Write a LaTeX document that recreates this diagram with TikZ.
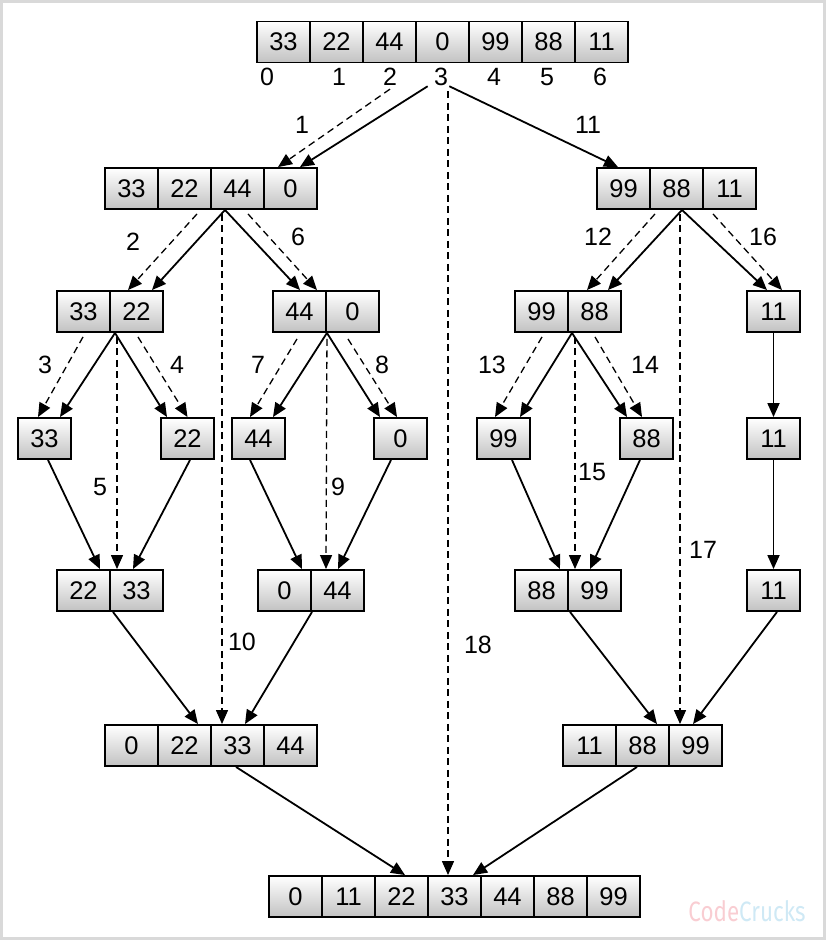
\documentclass[tikz,border=0pt]{standalone}
\usepackage{fontspec}
\setmainfont{Liberation Sans}
\newfontfamily\markfont{Fira Sans}
\usetikzlibrary{arrows.meta,positioning}
\definecolor{markpink}{HTML}{F9CDD2}
\definecolor{markblue}{HTML}{CFE9F5}
\tikzstyle{every node}=[thick]
\tikzstyle{cell}=[draw,line width=1.9pt,minimum width=53pt,minimum height=41pt,inner sep=0pt,
  top color=white,bottom color=black!24,font=\fontsize{25.5}{28}\selectfont]
\tikzstyle{idx}=[inner sep=0pt,font=\fontsize{25}{28}\selectfont]
\tikzstyle{stepno}=[inner sep=0pt,font=\fontsize{25}{28}\selectfont]
\tikzstyle{link}=[line width=1.8pt,-{Triangle[length=14pt,width=12pt]}]
\tikzstyle{copy}=[line width=1.3pt,dash pattern=on 7pt off 4.5pt,-{Triangle[length=14pt,width=12pt]}]
% row of cells: name, left x, centre y, values
\newcommand{\cellrow}[4]{%
  \foreach \v [count=\k] in {#4}
    \node[cell] (#1-\k) at ({#2+26.5+53*(\k-1)},#3) {\v};}

\begin{document}
\begin{tikzpicture}[x=1pt,y=-1pt]
\useasboundingbox (0,0) rectangle (826,946);
\draw[line width=3pt,black!15] (1.5,1.5) rectangle (824.5,938.5);

% arrays
\cellrow{t}{257}{42}{33,22,44,0,99,88,11}
\foreach \x [count=\k from 0] in {267,339,390,441,494,547,600}
  \node[idx] (i\k) at (\x,77) {\k};
\cellrow{a}{105}{188.5}{33,22,44,0}
\cellrow{b}{597}{188.5}{99,88,11}
\cellrow{c}{57}{311.5}{33,22}
\cellrow{d}{273}{311.5}{44,0}
\cellrow{e}{515}{311.5}{99,88}
\cellrow{f}{747}{311.5}{11}
\node[cell] (s33) at (44.5,438.5) {33};
\node[cell] (s22) at (187.5,438.5) {22};
\node[cell] (s44) at (258.5,438.5) {44};
\node[cell] (s0)  at (400.5,438.5) {0};
\node[cell] (s99) at (503.5,438.5) {99};
\node[cell] (s88) at (646.5,438.5) {88};
\node[cell] (s11) at (773.5,438.5) {11};
\cellrow{p}{57}{590.5}{22,33}
\cellrow{q}{258}{590.5}{0,44}
\cellrow{r}{515}{590.5}{88,99}
\cellrow{u}{747}{590.5}{11}
\cellrow{v}{105}{745.5}{0,22,33,44}
\cellrow{w}{563}{745.5}{11,88,99}
\cellrow{z}{269}{896.5}{0,11,22,33,44,88,99}

% split of the whole array
\draw[link] ([xshift=-6]i3.south west) -- ([xshift=9.5]a-4.north);
\draw[copy] ([yshift=-3]i2.south) -- ([xshift=-12.5]a-4.north);
\draw[link] ([xshift=1]i3.south east) -- ([xshift=-5.5]b-1.north);
\draw[copy] ([xshift=7,yshift=-5]i3.south) -- ([xshift=-6.5]z-4.north);

% left half
\draw[link] ([xshift=-12.5]a-3.south) -- ([xshift=15.5]c-2.north);
\draw[copy] ([xshift=12.5,yshift=-4]a-2.south) -- ([xshift=-8.5]c-2.north);
\draw[link] ([xshift=-12.5]a-3.south) -- ([xshift=0.5]d-1.north);
\draw[copy] ([xshift=10.5,yshift=-4]a-3.south) -- ([xshift=17.5]d-1.north);
\draw[copy] ([xshift=-15.5,yshift=-4]a-3.south) -- ([xshift=-15.5]v-3.north);

\draw[link] ([xshift=-21.5]c-2.south) -- ([xshift=15.5]s33.north);
\draw[copy] ([xshift=-0.5,yshift=-4]c-1.south) -- ([xshift=-6.5]s33.north);
\draw[link] ([xshift=-21.5]c-2.south) -- ([xshift=-20.5]s22.north);
\draw[copy] ([xshift=1.5,yshift=-4]c-2.south) -- (s22.north);
\draw[copy] ([xshift=-19.5,yshift=-4]c-2.south) -- ([xshift=-19.5]p-2.north);

\draw[link] (d-1.south east) -- ([xshift=14.5]s44.north);
\draw[copy] ([xshift=-2.5,yshift=-6]d-1.south) -- ([xshift=-8.5]s44.north);
\draw[link] (d-1.south east) -- ([xshift=-20.5]s0.north);
\draw[copy] ([xshift=-4.5,yshift=-6]d-2.south) -- ([xshift=-3.5]s0.north);
\draw[copy] ([yshift=-6]d-1.south east) -- ([xshift=-11.5]q-2.north);

\draw[link] ([xshift=3.5]s33.south) -- ([xshift=16.5]p-1.north);
\draw[link] ([xshift=2.5]s22.south) -- ([xshift=-3.5]p-2.north);
\draw[link] ([xshift=-8.5]s44.south) -- ([xshift=17.5]q-1.north);
\draw[link] ([xshift=-9.5]s0.south) -- ([xshift=0.5]q-2.north);

\draw[link] ([xshift=-23.5]p-2.south) -- ([xshift=13.5]v-2.north);
\draw[link] ([xshift=-25.5]q-2.south) -- ([xshift=7.5]v-3.north);

% right half
\draw[link] ([xshift=5.5]b-2.south) -- ([xshift=13.5]e-2.north);
\draw[copy] ([xshift=-21.5,yshift=-4]b-2.south) -- ([xshift=-7.5]e-2.north);
\draw[link] ([xshift=5.5]b-2.south) -- ([xshift=-6.5]f-1.north);
\draw[copy] ([xshift=-16.5,yshift=-4]b-3.south) -- ([xshift=8.5]f-1.north);
\draw[copy] ([xshift=3.5,yshift=-4]b-2.south) -- ([xshift=-15.5]w-3.north);

\draw[link] ([xshift=-22.5]e-2.south) -- ([xshift=16.5]s99.north);
\draw[copy] ([xshift=0.5,yshift=-4]e-1.south) -- ([xshift=-8.5]s99.north);
\draw[link] ([xshift=-22.5]e-2.south) -- ([xshift=-19.5]s88.north);
\draw[copy] ([xshift=0.5,yshift=-4]e-2.south) -- ([xshift=-4.5]s88.north);
\draw[copy] ([xshift=-19.5,yshift=-4]e-2.south) -- ([xshift=-19.5]r-2.north);
\draw[link] (f-1) -- (s11);
\draw[link] (s11) -- (u-1);

\draw[link] ([xshift=8.5]s99.south) -- ([xshift=18.5]r-1.north);
\draw[link] ([xshift=-6.5]s88.south) -- ([xshift=-4.5]r-2.north);

\draw[link] ([xshift=-24.5]r-2.south) -- ([xshift=14.5]w-2.north);
\draw[link] ([xshift=3.5]u-1.south) -- ([xshift=-2.5]w-3.north);

% final merge
\draw[link] ([xshift=-1.5]v-3.south) -- ([xshift=3.5]z-3.north);
\draw[link] ([xshift=-5.5]w-2.south) -- ([xshift=18.5]z-4.north);

% step numbers
\foreach \x/\y/\t in {302/125/1,588/125/11,133/242/2,298/237/6,598/237/12,763/237/16,
  45/365/3,177/365/4,258/365/7,382/365/8,492/365/13,645/365/14,
  100/487/5,338/487/9,592/472/15,703/550/17,242/642/10,478/645/18}
  \node[stepno] (n\t) at (\x,\y) {\t};

\node[inner sep=0pt] (mark) at (747,911) {\scalebox{0.8}[1]{\markfont\fontsize{28}{30}\selectfont
  \textcolor{markpink}{Code}\textcolor{markblue}{Crucks}}};
\end{tikzpicture}
\end{document}
